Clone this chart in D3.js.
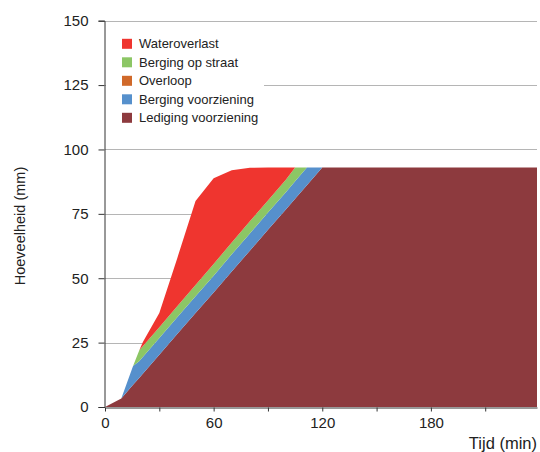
<!DOCTYPE html>
<html><head><meta charset="utf-8">
<script src="https://cdn.jsdelivr.net/npm/d3@7"></script>
<style>body{margin:0;background:#fff}svg{display:block}text{font-family:"Liberation Sans",Arial,sans-serif;fill:#222}</style>
</head><body><svg id="c" width="540" height="452"></svg>
<script>
const xMax = 238.6;
const times = [0, 9, 15.5, 19, 21, 30, 40, 50, 60, 70, 80, 90, 100, 105, 111.5, 120, xMax];
const lediging   = [0, 3.3, 8.6, 11.4, 13.0, 20.3, 28.4, 36.5, 44.5, 52.6, 60.7, 68.8, 76.8, 80.9, 86.1, 93, 93];
const bergingV   = [0, 0, 7.3, 6.5, 6.5, 6.5, 6.5, 6.5, 6.5, 6.7, 6.7, 6.7, 6.7, 6.8, 6.9, 0, 0];
const overloop   = [0, 0, 0, 0, 0, 0, 0, 0, 0, 0, 0, 0, 0, 0, 0, 0, 0];
const bergingS   = [0, 0, 0, 4.2, 4.2, 4.2, 4.3, 4.4, 4.5, 4.6, 4.7, 4.7, 4.8, 5.3, 0, 0, 0];
const overlast   = [0, 0, 0, 0, 1.6, 5.5, 18.8, 32.6, 33.3, 28.0, 20.8, 12.8, 4.7, 0, 0, 0, 0];
const seriesNames = ["Lediging voorziening", "Berging voorziening", "Overloop", "Berging op straat", "Wateroverlast"];
const seriesVals = [lediging, bergingV, overloop, bergingS, overlast];
const colors = ["#8d3a3e", "#5690cc", "#d0692a", "#8cc665", "#ef352f"];
const legendOrder = ["Wateroverlast", "Berging op straat", "Overloop", "Berging voorziening", "Lediging voorziening"];
const xTicks = [0, 30, 60, 90, 120, 150, 180, 210];
const xTickLabels = {0: "0", 60: "60", 120: "120", 180: "180"};
const yTicks = [0, 25, 50, 75, 100, 125, 150];

const svg = d3.select("#c");
const x = d3.scaleLinear().domain([0, xMax]).range([105, 537]);
const y = d3.scaleLinear().domain([0, 150]).range([407, 20.7]);

const rows = times.map((t, i) => {
  const r = {t};
  seriesNames.forEach((n, k) => r[n] = seriesVals[k][i]);
  return r;
});
const stack = d3.stack().keys(seriesNames)(rows);

// gridlines
svg.append("g").selectAll("line").data(yTicks.filter(d => d > 0)).join("line")
  .attr("x1", 105).attr("x2", 537).attr("y1", d => Math.round(y(d)) + 0.5).attr("y2", d => Math.round(y(d)) + 0.5)
  .attr("stroke", "#b5b5b5").attr("stroke-width", 1);

const area = d3.area().x(d => x(d.data.t)).y0(d => y(d[0])).y1(d => y(d[1]));
svg.append("g").selectAll("path").data(stack).join("path")
  .attr("d", area).attr("fill", (d, i) => colors[i]);

// axes
const yAxis = d3.axisLeft(y).tickValues(yTicks).tickSize(6).tickPadding(10);
const gy = svg.append("g").attr("transform", "translate(104.5,0)").call(yAxis);
gy.select(".domain").attr("stroke", "#333");
gy.selectAll(".tick line").attr("stroke", "#333");
gy.selectAll("text").style("font-size", "15px").attr("fill", "#222");

const xAxis = d3.axisBottom(x).tickValues(xTicks).tickSize(4).tickSizeOuter(0).tickPadding(6)
  .tickFormat(d => xTickLabels[d] || "");
const gx = svg.append("g").attr("transform", "translate(0,407.5)").call(xAxis);
gx.select(".domain").attr("stroke", "#333");
gx.selectAll(".tick line").attr("stroke", "#333");
gx.selectAll("text").style("font-size", "15px").attr("fill", "#222");

// axis titles
svg.append("text").attr("transform", "translate(25,226) rotate(-90)").attr("text-anchor", "middle")
  .style("font-size", "14.5px").text("Hoeveelheid (mm)");
svg.append("text").attr("x", 537).attr("y", 449).attr("text-anchor", "end")
  .style("font-size", "16.5px").text("Tijd (min)");

// legend
const lg = svg.append("g");
lg.append("rect").attr("x", 106).attr("y", 26).attr("width", 158).attr("height", 104).attr("fill", "#fff");
legendOrder.forEach((n, i) => {
  const k = seriesNames.indexOf(n);
  const cy = 43.8 + i * 18.5;
  lg.append("rect").attr("x", 122).attr("y", cy - 5).attr("width", 10).attr("height", 10).attr("fill", colors[k]);
  lg.append("text").attr("x", 139).attr("y", cy + 4.5).style("font-size", "13px").text(n);
});
</script></body></html>
